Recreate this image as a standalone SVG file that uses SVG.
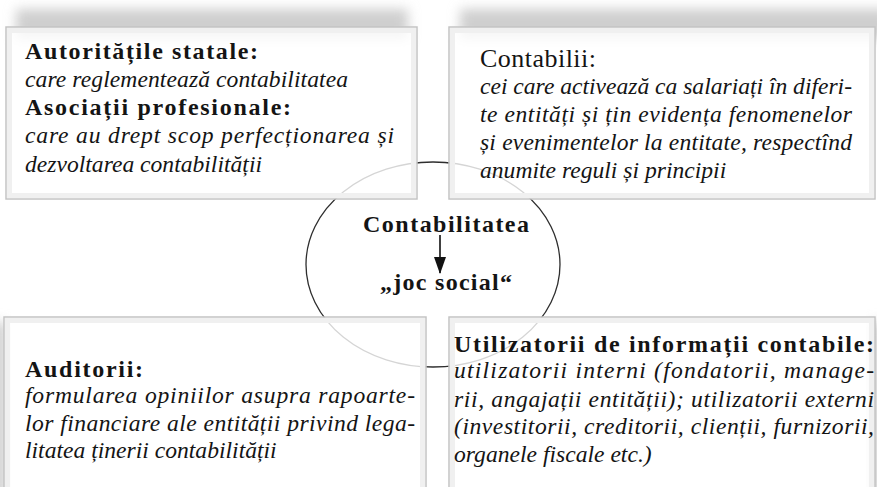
<svg xmlns="http://www.w3.org/2000/svg" width="877" height="487" viewBox="0 0 877 487">
<defs>
<style>
text{font-family:"Liberation Serif","DejaVu Serif",serif;fill:#141414;}
.h{font-weight:bold;font-size:24px;}
.i{font-style:italic;font-size:23.6px;}
.r{font-size:26px;}
.box{fill:#fff;fill-opacity:0.8;stroke:#c4c4c4;stroke-width:1.5;}
.inner{fill:none;stroke:#f0f0f0;stroke-width:5;}
.sh{fill:#cfcfcf;filter:url(#blur);}
.ell{fill:none;stroke:#2e2e2e;stroke-width:1.3;}
.arrow{stroke:#111;stroke-width:1.6;fill:none;marker-end:url(#ah);}
</style>
<filter id="blur" x="-30%" y="-80%" width="160%" height="260%"><feGaussianBlur stdDeviation="6"/></filter>
<marker id="ah" markerWidth="17" markerHeight="12" refX="16" refY="6" orient="auto" markerUnits="userSpaceOnUse" viewBox="0 0 17 12">
<path d="M0,0 L17,6 L0,12 Z" fill="#111"/>
</marker>
</defs>
<rect width="877" height="487" fill="#fff"/>
<g id="shadows">
<rect class="sh" x="16" y="9" width="392" height="30"/>
<rect class="sh" x="460" y="9" width="430" height="30"/>
<rect class="sh" x="-8" y="322" width="14" height="175"/>
<rect class="sh" x="871" y="322" width="14" height="175"/>
</g>
<g id="center">
<ellipse class="ell" cx="433" cy="264.5" rx="127" ry="102.5"/>
<text class="h" x="363" y="232" textLength="166" lengthAdjust="spacing">Contabilitatea</text>
<text class="h" x="380" y="290" textLength="132" lengthAdjust="spacing">„joc social“</text>
</g>
<g id="autoritati">
<rect class="box" x="6" y="27" width="411" height="172"/>
<rect class="inner" x="9.5" y="30.5" width="404" height="165"/>
<text class="h" x="25" y="59" textLength="233" lengthAdjust="spacing">Autoritățile statale:</text>
<text class="i" x="25" y="87" textLength="323" lengthAdjust="spacing">care reglementează contabilitatea</text>
<text class="h" x="25" y="115" textLength="266" lengthAdjust="spacing">Asociații profesionale:</text>
<text class="i" x="25" y="143" textLength="369" lengthAdjust="spacing">care au drept scop perfecționarea și</text>
<text class="i" x="25" y="172">dezvoltarea contabilității</text>
</g>
<g id="contabilii">
<rect class="box" x="449" y="27" width="426" height="172"/>
<rect class="inner" x="452.5" y="30.5" width="419" height="165"/>
<text class="r" x="480" y="67" textLength="116" lengthAdjust="spacing">Contabilii:</text>
<text class="i" x="480" y="94" textLength="372" lengthAdjust="spacing">cei care activează ca salariați în diferi-</text>
<text class="i" x="480" y="122" textLength="372" lengthAdjust="spacing">te entități și țin evidența fenomenelor</text>
<text class="i" x="480" y="150" textLength="372" lengthAdjust="spacing">și evenimentelor la entitate, respectînd</text>
<text class="i" x="480" y="178">anumite reguli și principii</text>
</g>
<g id="auditorii">
<rect class="box" x="4" y="317" width="422" height="180"/>
<rect class="inner" x="7.5" y="320.5" width="415" height="173"/>
<text class="h" x="25" y="377" textLength="118" lengthAdjust="spacing">Auditorii:</text>
<text class="i" x="25" y="403" textLength="390" lengthAdjust="spacing">formularea opiniilor asupra rapoarte-</text>
<text class="i" x="25" y="431" textLength="390" lengthAdjust="spacing">lor financiare ale entității privind lega-</text>
<text class="i" x="25" y="458">litatea ținerii contabilității</text>
</g>
<g id="utilizatorii">
<rect class="box" x="449" y="317" width="426" height="180"/>
<rect class="inner" x="452.5" y="320.5" width="419" height="173"/>
<text class="h" x="454" y="352" textLength="420" lengthAdjust="spacing">Utilizatorii de informații contabile:</text>
<text class="i" x="454" y="378" textLength="420" lengthAdjust="spacing">utilizatorii interni (fondatorii, manage-</text>
<text class="i" x="454" y="407" textLength="420" lengthAdjust="spacing">rii, angajații entității); utilizatorii externi</text>
<text class="i" x="454" y="434" textLength="420" lengthAdjust="spacing">(investitorii, creditorii, clienții, furnizorii,</text>
<text class="i" x="454" y="462">organele fiscale etc.)</text>
</g>
<g id="connectors">
<line class="arrow" x1="440" y1="235" x2="440" y2="273"/>
</g>
</svg>
